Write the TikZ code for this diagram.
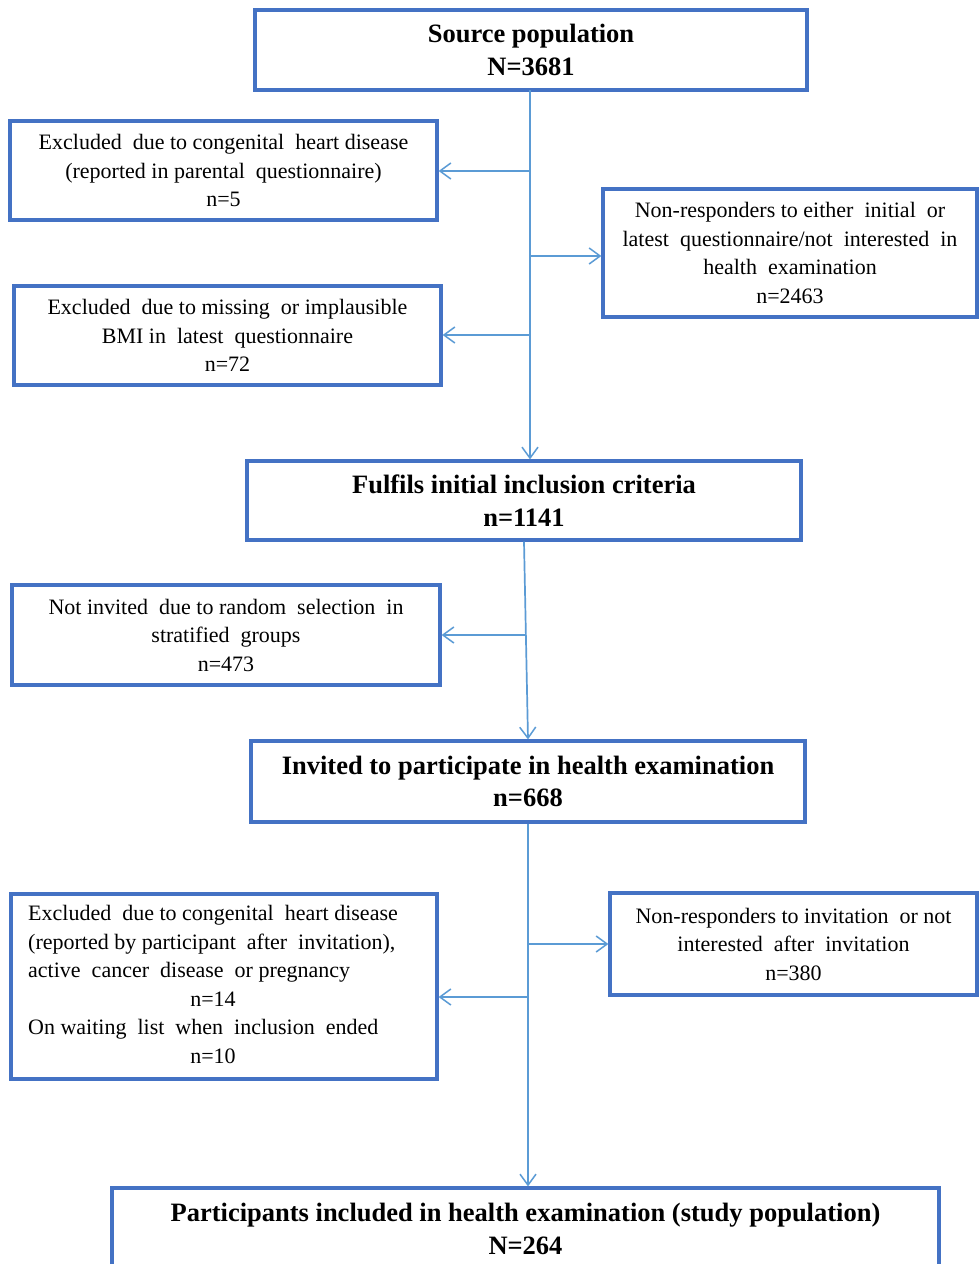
\documentclass[tikz,border=0pt]{standalone}
\usepackage{fontspec}
\setmainfont{Liberation Serif}
\usetikzlibrary{arrows.meta}
\definecolor{boxblue}{RGB}{68,114,196}
\definecolor{lineblue}{RGB}{91,155,213}
\tikzset{
  box/.style={draw=boxblue, line width=3.2pt, fill=white, inner sep=0pt, align=center,
    font=\fontsize{22}{28.5}\selectfont},
  mainbox/.style={box, font=\fontsize{26.5}{32.5}\selectfont\bfseries},
  arr/.style={draw=lineblue, line width=1.7pt,
    -{Straight Barb[length=11pt,width=16pt,line width=1.5pt]}},
  trunk/.style={draw=lineblue, line width=1.7pt}
}
\begin{document}
\begin{tikzpicture}[x=1pt,y=-1pt]
\useasboundingbox (0,0) rectangle (979,1264);
\fill[white] (0,0) rectangle (979,1264);
% boxes
\node[mainbox, minimum width=552pt, minimum height=80pt] (src) at (531,50) {Source population\\N=3681};
\node[box, minimum width=427pt, minimum height=99pt] (ex1) at (223.5,170.5) {Excluded\ \ due to congenital\ \ heart disease\\(reported in parental\ \ questionnaire)\\n=5};
\node[box, minimum width=374pt, minimum height=128pt] (nr1) at (790,253) {Non-responders to either\ \ initial\ \ or\\latest\ \ questionnaire/not\ \ interested\ \ in\\health\ \ examination\\n=2463};
\node[box, minimum width=427pt, minimum height=99pt] (ex2) at (227.5,335.5) {Excluded\ \ due to missing\ \ or implausible\\BMI in\ \ latest\ \ questionnaire\\n=72};
\node[mainbox, minimum width=554pt, minimum height=79pt] (ful) at (524,500.5) {Fulfils initial inclusion criteria\\n=1141};
\node[box, minimum width=428pt, minimum height=100pt] (ni) at (226,635) {Not invited\ \ due to random\ \ selection\ \ in\\stratified\ \ groups\\n=473};
\node[mainbox, minimum width=554pt, minimum height=81pt] (inv) at (528,781.5) {Invited\ to participate in health examination\\n=668};
\node[box, minimum width=426pt, minimum height=185pt] (ex3) at (224,986.5) {\begin{tabular}{@{}l@{}}Excluded\ \ due to congenital\ \ heart disease\\(reported by participant\ \ after\ \ invitation),\\active\ \ cancer\ \ disease\ \ or pregnancy\\\multicolumn{1}{@{}c@{}}{n=14}\\On waiting\ \ list\ \ when\ \ inclusion\ \ ended\\\multicolumn{1}{@{}c@{}}{n=10}\end{tabular}\hspace*{22pt}};
\node[box, minimum width=367pt, minimum height=102pt] (nr2) at (793.5,944) {Non-responders to invitation\ \ or not\\interested\ \ after\ \ invitation\\n=380};
\node[mainbox, minimum width=827pt, minimum height=82pt] (part) at (525.5,1229) {Participants included in health examination (study population)\\N=264};
% trunk 1
\coordinate (t1a) at (530,90);
\coordinate (b1) at (530,171);
\coordinate (b2) at (530,256);
\coordinate (b3) at (530,335);
\draw[arr] (t1a) -- (t1a |- ful.north);
\draw[arr] (b1) -- (b1 -| ex1.east);
\draw[arr] (b2) -- (b2 -| nr1.west);
\draw[arr] (b3) -- (b3 -| ex2.east);
% trunk 2
\draw[arr] (ful.south) -- (inv.north);
\coordinate (b4) at (526,635);
\draw[arr] (b4) -- (b4 -| ni.east);
% trunk 3
\draw[arr] (inv.south) -- (inv.south |- part.north);
\coordinate (b5) at (528,944);
\coordinate (b6) at (528,997);
\draw[arr] (b5) -- (b5 -| nr2.west);
\draw[arr] (b6) -- (b6 -| ex3.east);
\end{tikzpicture}
\end{document}
